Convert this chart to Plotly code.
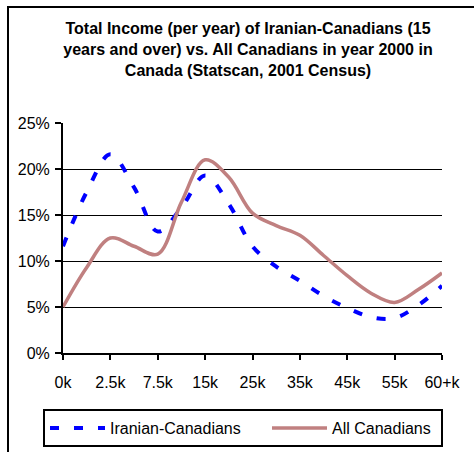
import numpy as np
import plotly.graph_objects as go

# Income brackets shown on the horizontal axis
income_labels = ["0k", "2.5k", "7.5k", "15k", "25k", "35k", "45k", "55k", "60+k"]

# Share of population (%) sampled at every half bracket step
iranian_pct = [11.6, 17.5, 21.6, 18.0, 13.2, 15.8, 19.3, 16.2, 11.6,
               9.4, 7.85, 6.2, 4.9, 3.9, 3.8, 5.2, 7.3]
all_canadians_pct = [5.0, 9.3, 12.5, 11.6, 10.75, 16.4, 21.0, 19.1, 15.2,
                     13.85, 12.8, 10.6, 8.4, 6.5, 5.5, 6.9, 8.7]

x_pos = np.arange(len(iranian_pct)) * 0.5
iranian = np.array(iranian_pct) / 100
all_can = np.array(all_canadians_pct) / 100

W, H = 474, 452
L, R, T, B = 63, 442, 123, 353  # plot area in pixels


def px_x(p):
    return (p - L) / (R - L)


def px_y(p):
    return (B - p) / (B - T)


FONT = "Liberation Sans, Arial, sans-serif"

fig = go.Figure()
fig.add_trace(go.Scatter(
    x=x_pos, y=iranian, name="Iranian-Canadians", mode="lines",
    line=dict(color="#0000FF", width=4, dash="9px,15px", shape="spline", smoothing=1),
    legendwidth=152,
))
fig.add_trace(go.Scatter(
    x=x_pos, y=all_can, name="All Canadians", mode="lines",
    line=dict(color="#C08080", width=3.5, shape="spline", smoothing=1),
    legendwidth=104,
))

fig.update_layout(
    width=W, height=H,
    margin=dict(l=L, r=W - R, t=T, b=H - B, pad=0, autoexpand=False),
    paper_bgcolor="white", plot_bgcolor="white",
    font=dict(family=FONT, size=16, color="black"),
    title=dict(
        text="<b>Total Income (per year) of Iranian-Canadians (15<br>"
             "years and over) vs. All Canadians in year 2000 in<br>"
             "Canada (Statscan, 2001 Census)</b>",
        font=dict(family=FONT, size=16, color="black"),
        x=px_x(248), xref="paper", xanchor="center",
        y=1 - 34 / H, yref="container", yanchor="top",
    ),
    xaxis=dict(
        range=[0, 8], tickvals=list(range(len(income_labels))), ticktext=income_labels,
        showline=True, linecolor="black", linewidth=2,
        ticks="outside", ticklen=5, tickwidth=2, tickcolor="black",
        showgrid=False, zeroline=False, ticklabelstandoff=9,
        fixedrange=True,
    ),
    yaxis=dict(
        range=[0, 0.25], dtick=0.05, tickformat=".0%",
        showline=True, linecolor="black", linewidth=2,
        ticks="outside", ticklen=6, tickwidth=2, tickcolor="black",
        showgrid=True, gridcolor="black", gridwidth=1, zeroline=False,
        ticklabelstandoff=2, fixedrange=True,
    ),
    legend=dict(
        orientation="h", x=px_x(43), xanchor="left", y=px_y(409), yanchor="top",
        bordercolor="black", borderwidth=2, bgcolor="white",
        font=dict(family=FONT, size=16, color="black"),
        itemwidth=55,
    ),
    showlegend=True,
    shapes=[dict(
        type="rect", xref="paper", yref="paper",
        x0=px_x(8), x1=px_x(W + 20), y0=px_y(H + 20), y1=px_y(7),
        line=dict(color="black", width=2), fillcolor="rgba(0,0,0,0)", layer="below",
    )],
)

fig.write_html("out.html")
